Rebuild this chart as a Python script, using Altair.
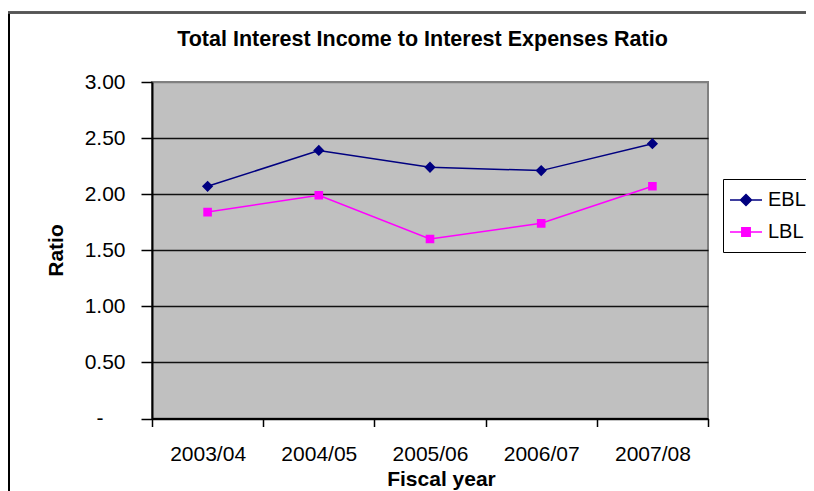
import altair as alt
import pandas as pd

years = ["2003/04", "2004/05", "2005/06", "2006/07", "2007/08"]
ebl = [2.07, 2.39, 2.24, 2.21, 2.45]
lbl = [1.84, 1.99, 1.60, 1.74, 2.07]
series = ["EBL", "LBL"]
colors = ["#000080", "#FF00FF"]
y_ticks = [0, 0.5, 1.0, 1.5, 2.0, 2.5, 3.0]

rows = []
for s, vals in zip(series, [ebl, lbl]):
    for yr, v in zip(years, vals):
        rows.append({"year": yr, "series": s, "ratio": v})
df = pd.DataFrame(rows)

FONT = "Liberation Sans"
# legend symbol: line segment + marker; chart points hide the line part (strokeWidth 0)
diamond_path = "M-1.6,0H1.6M0,-0.55L0.55,0L0,0.55L-0.55,0Z"
square_path = "M-1.6,0H1.6M-0.42,-0.42H0.42V0.42H-0.42Z"

legend = alt.Legend(
    title=None,
    orient="none",
    legendX=571,
    legendY=97,
    direction="vertical",
    strokeColor="black",
    fillColor="white",
    padding=10,
    rowPadding=11,
    symbolSize=400,
    symbolStrokeWidth=1.5,
    symbolOffset=2,
    labelOffset=11,
    labelFont=FONT,
    labelFontSize=20,
    labelColor="black",
)
color_scale = alt.Scale(domain=series, range=colors)

x_enc = alt.X(
    "year:N",
    sort=years,
    scale=alt.Scale(type="band", paddingInner=0, paddingOuter=0),
    axis=alt.Axis(
        title="Fiscal year",
        labelAngle=0,
        tickBand="extent",
        tickSize=8,
        tickColor="black",
        tickWidth=1.5,
        domainColor="black",
        domainWidth=2,
        labelFont=FONT,
        labelFontSize=21,
        labelColor="black",
        labelPadding=17,
        titleFont=FONT,
        titleFontSize=21,
        titleFontWeight="bold",
        titleColor="black",
        titleX=289,
        titleY=50,
        titleBaseline="top",
    ),
)
y_enc = alt.Y(
    "ratio:Q",
    scale=alt.Scale(domain=[0, 3], nice=False, zero=True),
    axis=alt.Axis(
        title="Ratio",
        values=y_ticks,
        labelExpr="datum.value == 0 ? '-' : format(datum.value, '.2f')",
        tickSize=11,
        tickColor="black",
        tickWidth=1.5,
        domainColor="black",
        domainWidth=2,
        grid=True,
        gridColor={"condition": {"test": "datum.value === 3", "value": "#808080"}, "value": "#111111"},
        gridWidth=1.6,
        labelFont=FONT,
        labelFontSize=21,
        labelColor="black",
        labelPadding={"condition": {"test": "datum.value === 0", "value": 38}, "value": 16},
        titleFont=FONT,
        titleFontSize=21,
        titleFontWeight="bold",
        titleColor="black",
        titleAngle=-90,
        titleX=-90,
        titleY=168,
        titleBaseline="alphabetic",
    ),
)

lines = alt.Chart(df).mark_line(strokeWidth=1.5).encode(
    x=x_enc,
    y=y_enc,
    stroke=alt.Stroke("series:N", scale=color_scale, legend=legend),
    detail="series:N",
)

points = alt.Chart(df).mark_point(filled=True, strokeWidth=0, size=420, opacity=1).encode(
    x=x_enc,
    y=y_enc,
    fill=alt.Fill("series:N", scale=color_scale, legend=legend),
    stroke=alt.Stroke("series:N", scale=color_scale, legend=legend),
    shape=alt.Shape("series:N", scale=alt.Scale(domain=series, range=[diamond_path, square_path]), legend=legend),
)

frame_left = alt.Chart(df).mark_rule(color="black", strokeWidth=2, clip=False).encode(
    x=alt.value(-143), y=alt.value(-70), y2=alt.value(420)
)
frame_top = alt.Chart(df).mark_rule(color="#555555", strokeWidth=1.5, clip=False).encode(
    x=alt.value(-144), x2=alt.value(660), y=alt.value(-69.5)
)

chart = (
    alt.layer(frame_left, frame_top, lines, points)
    .properties(
        width=556,
        height=336.5,
        autosize=alt.AutoSizeParams(type="none"),
        padding={"left": 144, "top": 74, "right": 98, "bottom": 72},
        view=alt.ViewBackground(fill="#C0C0C0", stroke="#808080", strokeWidth=2),
        title=alt.TitleParams(
            "Total Interest Income to Interest Expenses Ratio",
            font=FONT,
            fontSize=21.5,
            fontWeight="bold",
            color="black",
            anchor="middle",
            baseline="alphabetic",
            dx=-7.5,
            offset=-56.5,
        ),
    )
    .configure_view(fill="#C0C0C0", stroke="#808080", strokeWidth=2)
    .configure(background="white")
)

chart.save("out.html", embed_options={"renderer": "svg", "actions": False})
